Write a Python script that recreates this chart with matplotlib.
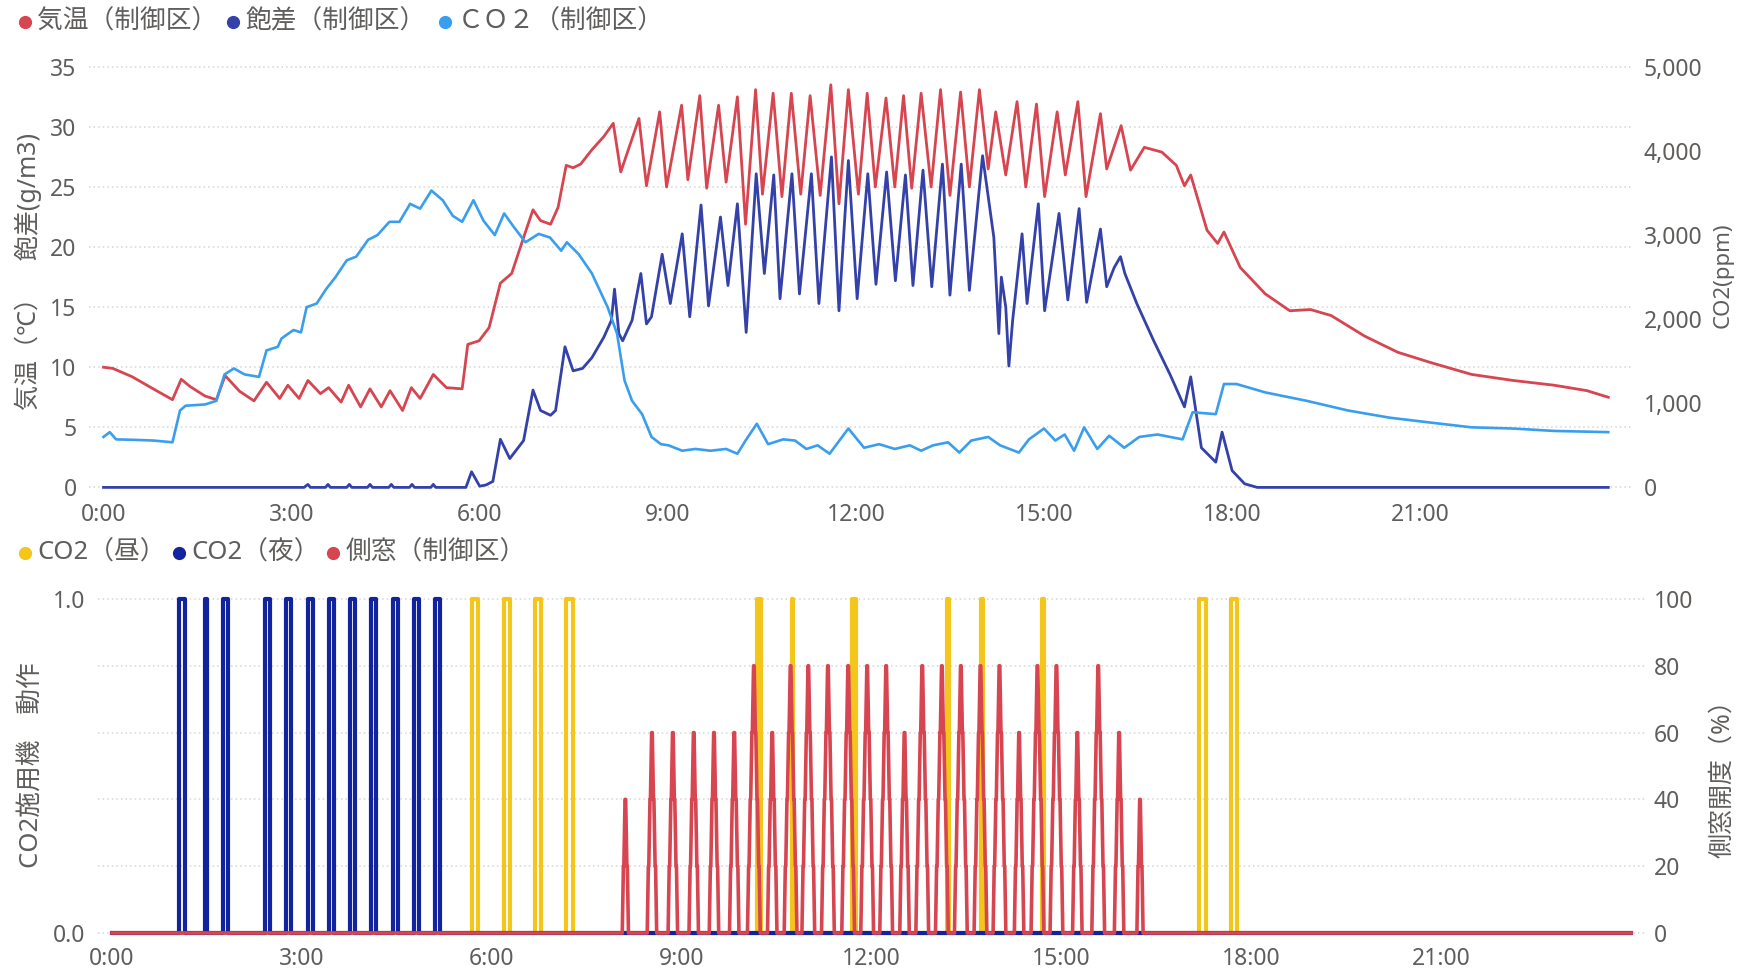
import numpy as np
import matplotlib
matplotlib.use("Agg")
import matplotlib.pyplot as plt
from matplotlib.lines import Line2D
from matplotlib.ticker import FuncFormatter

plt.rcParams["font.family"] = ["Noto Sans", "Noto Sans CJK JP", "DejaVu Sans"]

# ---- data ----
# hours of day, air temperature (C)
temp_t = [0.00, 0.15, 0.46, 0.76, 1.10, 1.24, 1.38, 1.62, 1.80, 1.94, 2.17, 2.40, 2.60, 2.81,
          2.94, 3.12, 3.26, 3.46, 3.59, 3.79, 3.91, 4.10, 4.25, 4.43, 4.57, 4.77, 4.91, 5.05,
          5.26, 5.47, 5.72, 5.81, 5.99, 6.15, 6.33, 6.51, 6.70, 6.85, 6.97, 7.13, 7.25, 7.38,
          7.49, 7.61, 7.79, 7.98, 8.13, 8.25, 8.54, 8.66, 8.87, 8.98, 9.22, 9.32, 9.51, 9.62,
          9.81, 9.93, 10.11, 10.24, 10.40, 10.51, 10.68, 10.82, 10.97, 11.12, 11.27, 11.43,
          11.60, 11.73, 11.88, 12.04, 12.18, 12.31, 12.48, 12.62, 12.76, 12.89, 13.04, 13.20,
          13.35, 13.50, 13.67, 13.81, 13.97, 14.11, 14.23, 14.39, 14.57, 14.71, 14.88, 15.01,
          15.21, 15.34, 15.54, 15.67, 15.90, 16.00, 16.23, 16.38, 16.60, 16.88, 17.11, 17.24,
          17.34, 17.60, 17.77, 17.87, 18.13, 18.53, 18.92, 19.25, 19.58, 20.11, 20.64, 21.16,
          21.82, 22.48, 23.14, 23.66, 24.00]
temp_v = [10.0, 9.9, 9.2, 8.3, 7.3, 9.0, 8.4, 7.6, 7.3, 9.3, 8.0, 7.2, 8.75, 7.4,
          8.5, 7.4, 8.9, 7.8, 8.3, 7.1, 8.5, 6.7, 8.2, 6.7, 8.05, 6.4, 8.3, 7.4,
          9.4, 8.3, 8.2, 11.9, 12.2, 13.3, 17.0, 17.8, 20.8, 23.1, 22.2, 21.9, 23.3, 26.8,
          26.6, 26.9, 28.1, 29.2, 30.3, 26.25, 30.7, 25.1, 31.25, 25.0, 31.8, 25.6, 32.6, 24.9,
          31.8, 25.4, 32.5, 21.9, 33.1, 24.4, 32.8, 24.2, 32.8, 24.4, 32.6, 24.3,
          33.5, 23.6, 33.1, 24.4, 32.8, 25.0, 32.4, 25.0, 32.6, 24.9, 32.8, 25.0,
          33.1, 24.3, 32.9, 25.0, 33.1, 26.5, 31.25, 26.0, 32.1, 25.0, 31.9, 24.2,
          31.25, 26.0, 32.1, 24.2, 31.1, 26.5, 30.1, 26.4, 28.3, 27.9, 26.8, 25.1,
          26.0, 21.4, 20.3, 21.25, 18.3, 16.1, 14.7, 14.8, 14.3, 12.6, 11.25, 10.4,
          9.4, 8.9, 8.5, 8.05, 7.5]

# saturation deficit (g/m3)
vpd_t = [0.00, 3.20, 3.26, 3.30, 3.54, 3.58, 3.62, 3.88, 3.92, 3.96, 4.21, 4.25, 4.29,
         4.55, 4.59, 4.63, 4.88, 4.92, 4.96, 5.22, 5.26, 5.30, 5.78, 5.87, 6.00, 6.10, 6.21,
         6.33, 6.48, 6.70, 6.85, 6.97, 7.13, 7.21, 7.36, 7.49, 7.64, 7.79, 7.98, 8.10, 8.15,
         8.22, 8.28, 8.43, 8.57, 8.66, 8.74, 8.91, 9.04, 9.23, 9.35, 9.53, 9.65, 9.84, 9.96,
         10.11, 10.25, 10.41, 10.54, 10.69, 10.79, 10.98, 11.10, 11.29, 11.41, 11.61, 11.73,
         11.88, 12.02, 12.19, 12.32, 12.49, 12.63, 12.79, 12.91, 13.07, 13.21, 13.38, 13.50,
         13.68, 13.81, 14.02, 14.20, 14.28, 14.32, 14.39, 14.44, 14.50, 14.65, 14.73, 14.91,
         15.01, 15.24, 15.38, 15.56, 15.68, 15.90, 16.00, 16.12, 16.22, 16.29, 16.48, 16.75,
         17.01, 17.24, 17.34, 17.51, 17.74, 17.84, 18.00, 18.20, 18.40, 24.00]
vpd_v = [0.0, 0.0, 0.25, 0.0, 0.0, 0.25, 0.0, 0.0, 0.25, 0.0, 0.0, 0.25, 0.0,
         0.0, 0.25, 0.0, 0.0, 0.25, 0.0, 0.0, 0.25, 0.0, 0.0, 1.3, 0.1, 0.2, 0.5,
         4.0, 2.4, 3.9, 8.1, 6.4, 6.0, 6.4, 11.7, 9.7, 9.9, 10.8, 12.5, 13.9, 16.5,
         12.8, 12.2, 13.9, 17.8, 13.6, 14.2, 19.4, 15.3, 21.1, 14.2, 23.5, 15.1, 22.5, 16.8,
         23.6, 12.9, 26.1, 17.8, 26.0, 15.7, 26.1, 16.1, 26.1, 15.3, 27.5, 14.7,
         27.2, 15.7, 26.1, 16.9, 26.25, 17.2, 26.0, 16.8, 26.4, 16.7, 26.9, 16.0,
         26.9, 16.4, 27.6, 20.8, 12.8, 17.5, 15.0, 10.1, 13.9, 21.1, 15.3, 23.6,
         14.7, 22.8, 15.6, 23.2, 15.4, 21.5, 16.7, 18.3, 19.2, 17.8, 15.3, 12.2,
         9.4, 6.7, 9.2, 3.3, 2.1, 4.6, 1.4, 0.3, 0.0, 0.0]

# CO2 concentration (ppm)
co2_t = [0.00, 0.10, 0.20, 0.50, 0.80, 1.10, 1.22, 1.31, 1.62, 1.80, 1.93, 2.08, 2.25, 2.48,
         2.60, 2.78, 2.84, 3.03, 3.15, 3.24, 3.40, 3.55, 3.70, 3.88, 4.03, 4.22, 4.37, 4.56,
         4.72, 4.89, 5.05, 5.23, 5.41, 5.57, 5.72, 5.90, 6.06, 6.24, 6.39, 6.54, 6.73, 6.94,
         7.12, 7.30, 7.39, 7.58, 7.79, 8.04, 8.19, 8.31, 8.43, 8.59, 8.74, 8.89, 9.01, 9.23,
         9.44, 9.68, 9.93, 10.11, 10.24, 10.42, 10.60, 10.84, 11.03, 11.21, 11.39, 11.58,
         11.88, 12.13, 12.37, 12.62, 12.86, 13.04, 13.23, 13.47, 13.65, 13.84, 14.11, 14.30,
         14.60, 14.76, 15.00, 15.18, 15.33, 15.48, 15.64, 15.85, 16.04, 16.28, 16.52, 16.81,
         17.21, 17.37, 17.74, 17.87, 18.07, 18.53, 19.19, 19.85, 20.51, 21.16, 21.82, 22.48,
         23.14, 24.00]
co2_ppm = [600, 657, 571, 565, 557, 536, 914, 971, 986, 1029, 1343, 1414, 1343, 1314,
           1629, 1671, 1771, 1871, 1843, 2143, 2186, 2357, 2500, 2700, 2743, 2943, 3000, 3157,
           3157, 3371, 3314, 3529, 3414, 3229, 3157, 3414, 3171, 3000, 3257, 3100, 2914, 3014,
           2971, 2814, 2914, 2771, 2543, 2143, 1829, 1271, 1029, 871, 600, 514, 500, 436,
           457, 436, 457, 400, 557, 757, 514, 571, 557, 457, 500, 400,
           700, 471, 514, 457, 500, 436, 500, 536, 414, 557, 600, 500,
           414, 571, 700, 557, 629, 436, 714, 457, 614, 471, 600, 629,
           571, 893, 871, 1229, 1229, 1129, 1029, 914, 829, 771, 714, 700,
           671, 657]

# CO2 generator on/off (hours)
night_on = [1.055, 1.472, 1.755, 2.415, 2.755, 3.095, 3.425, 3.765, 4.095, 4.435, 4.765, 5.105]
night_off = [1.155, 1.508, 1.835, 2.495, 2.835, 3.175, 3.505, 3.845, 4.175, 4.515, 4.845, 5.185]
day_on = [5.685, 6.185, 6.675, 7.175, 10.19, 10.735, 11.69, 13.195, 13.735, 14.685, 17.175, 17.675]
day_off = [5.785, 6.285, 6.775, 7.275, 10.26, 10.765, 11.76, 13.215, 13.755, 14.725, 17.275, 17.775]

# side window opening peaks (hour, %)
win_t = [8.11, 8.53, 8.86, 9.19, 9.51, 9.83, 10.14, 10.43, 10.72, 11.00, 11.31, 11.63, 11.93,
         12.23, 12.52, 12.80, 13.11, 13.41, 13.72, 14.02, 14.33, 14.62, 14.92, 15.25, 15.58,
         15.91, 16.24]
win_pct = [40, 60, 60, 60, 60, 60, 80, 60, 80, 80, 80, 80, 80,
           80, 60, 80, 80, 80, 80, 80, 60, 80, 80, 60, 80,
           60, 40]

hours = [0, 3, 6, 9, 12, 15, 18, 21]
hour_labels = [f"{h}:00" for h in hours]

RED = "#D64550"
VPD = "#3441A8"
CO2C = "#3A9EEE"
YEL = "#F4C51A"
NAVY = "#12239E"
TXT = "#605E5C"
GRID = "#D6D6D6"

W, H = 1745, 969
fig = plt.figure(figsize=(W / 100, H / 100), dpi=100)


def fx(px):
    return px / W


def fy(py):
    return 1 - py / H


def pulse_series(ons, offs):
    xs, ys = [0.0], [0.0]
    for a, b in zip(ons, offs):
        xs += [a, a, b, b]
        ys += [0, 1, 1, 0]
    xs.append(24.0)
    ys.append(0.0)
    return xs, ys


def window_series(centers, peaks):
    # the window moves in 20 % steps; each opening is drawn as a narrow stepped spike
    xs, ys = [0.0], [0.0]
    for c, p in zip(centers, peaks):
        lv = list(range(20, p + 1, 20))
        hw = {l: 0.005 + 0.026 * (p - l) / 20 for l in lv}
        left = [(c - hw[20] - 0.018, 0)]
        for l in lv[:-1]:
            left += [(c - hw[l], l), (c - hw[l] + 0.007, l)]
        left.append((c - hw[p], p))
        right = [(2 * c - x, y) for x, y in left[::-1]]
        for x, y in left + right:
            xs.append(x)
            ys.append(y)
    xs.append(24.0)
    ys.append(0.0)
    return xs, ys


def style(ax):
    for s in ax.spines.values():
        s.set_visible(False)
    ax.tick_params(length=0, labelsize=16.5, colors=TXT)


# ---- top panel ----
t0, pph = 103.5, 62.7
x_lo, x_hi = -0.23, 24.37
y_lo, y_hi = -0.5, 35.5
ppu = 12.017
left = t0 + x_lo * pph
right = t0 + x_hi * pph
bot = 487.4 - y_lo * ppu
top = 487.4 - y_hi * ppu
ax = fig.add_axes([fx(left), fy(bot), fx(right - left), (bot - top) / H])
ax.set_xlim(x_lo, x_hi)
ax.set_ylim(y_lo, y_hi)
ax.set_yticks(range(0, 36, 5))
ax.set_xticks(hours)
ax.set_xticklabels(hour_labels)
ax.grid(axis="y", color=GRID, linestyle=(0, (1, 2)), linewidth=1.1)
ax.grid(axis="x", visible=False)
style(ax)
ax.tick_params(axis="y", pad=9)
ax.tick_params(axis="x", pad=7)
ax.plot(temp_t, temp_v, color=RED, lw=2.0, solid_joinstyle="round")
ax.plot(vpd_t, vpd_v, color=VPD, lw=2.0, solid_joinstyle="round")
ax2 = ax.twinx()
ax2.set_ylim(y_lo / 35 * 5000, y_hi / 35 * 5000)
ax2.set_yticks(range(0, 5001, 1000))
ax2.yaxis.set_major_formatter(FuncFormatter(lambda v, p: f"{int(v):,}"))
style(ax2)
ax2.tick_params(axis="y", pad=9)
ax2.plot(co2_t, co2_ppm, color=CO2C, lw=1.9, solid_joinstyle="round")

# ---- bottom panel ----
b0, bpph = 112.0, 63.3
bx_lo, bx_hi = -0.22, 24.25
bppu = 334.0
bleft = b0 + bx_lo * bpph
bright = b0 + bx_hi * bpph
bbot = 933 + 0.02 * bppu
btop = 599 - 0.02 * bppu
bx = fig.add_axes([fx(bleft), fy(bbot), fx(bright - bleft), (bbot - btop) / H])
bx.set_xlim(bx_lo, bx_hi)
bx.set_ylim(-0.02, 1.02)
bx.set_yticks([0, 1])
bx.set_yticklabels(["0.0", "1.0"])
bx.set_yticks([0.2, 0.4, 0.6, 0.8], minor=True)
bx.set_xticks(hours)
bx.set_xticklabels(hour_labels)
bx.grid(axis="y", which="both", color=GRID, linestyle=(0, (1, 2)), linewidth=1.1)
bx.grid(axis="x", visible=False)
style(bx)
bx.tick_params(which="minor", length=0)
bx.tick_params(axis="y", pad=9)
bx.tick_params(axis="x", pad=5)
xs, ys = pulse_series(day_on, day_off)
bx.plot(xs, ys, color=YEL, lw=3.0)
xs, ys = pulse_series(night_on, night_off)
bx.plot(xs, ys, color=NAVY, lw=3.0)
bx2 = bx.twinx()
bx2.set_ylim(-2, 102)
bx2.set_yticks(range(0, 101, 20))
style(bx2)
bx2.tick_params(axis="y", pad=5)
xs, ys = window_series(win_t, win_pct)
bx2.plot(xs, ys, color=RED, lw=2.6, solid_joinstyle="round")

# ---- legends ----
def legend_item(px, py, color, text):
    fig.add_artist(Line2D([fx(px)], [fy(py)], transform=fig.transFigure, marker="o",
                          markersize=8.5, color=color, linestyle="none"))
    fig.text(fx(px + 12.5), fy(py), text, fontsize=18.5, color=TXT, va="center", ha="left")


legend_item(24.5, 22, RED, "気温（制御区）")
legend_item(232.6, 22, VPD, "飽差（制御区）")
legend_item(445, 22, CO2C, "ＣＯ２（制御区）")
legend_item(24.5, 553, YEL, "CO2（昼）")
legend_item(179, 553, NAVY, "CO2（夜）")
legend_item(333, 553, RED, "側窓（制御区）")

# ---- axis titles ----
fig.text(fx(28), fy(271), "気温（℃）　飽差(g/m3)", rotation=90, fontsize=18,
         color=TXT, ha="center", va="center")
fig.text(fx(1723), fy(275), "CO2(ppm)", rotation=90, fontsize=16,
         color=TXT, ha="center", va="center")
fig.text(fx(31), fy(765), "CO2施用機　動作", rotation=90, fontsize=18.5,
         color=TXT, ha="center", va="center")
fig.text(fx(1723), fy(773), "側窓開度（%）", rotation=90, fontsize=18,
         color=TXT, ha="center", va="center")

fig.savefig("out.png", dpi=100, facecolor="white")
